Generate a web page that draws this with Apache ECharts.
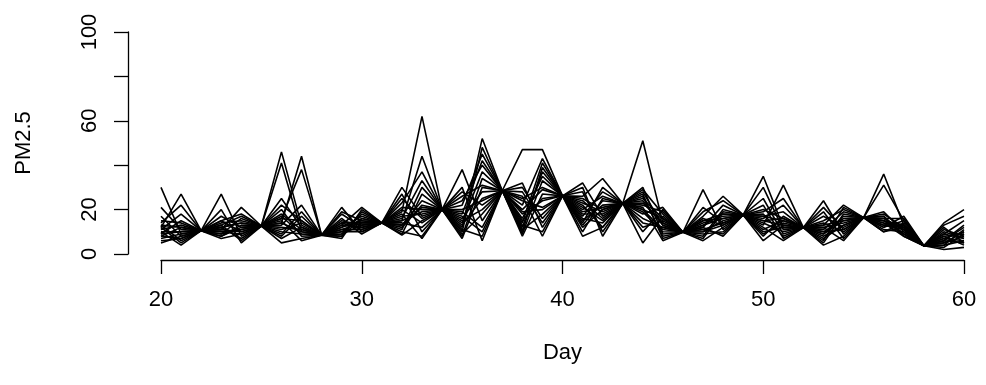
<!DOCTYPE html>
<html>
<head>
<meta charset="utf-8">
<script src="https://cdn.jsdelivr.net/npm/echarts@6/dist/echarts.min.js"></script>
<style>html,body{margin:0;padding:0;background:#fff}#c{width:986px;height:385px}</style>
</head>
<body>
<div id="c"></div>
<script>
// Days (x axis)
var days = [20,21,22,23,24,25,26,27,28,29,30,31,32,33,34,35,36,37,38,39,40,41,42,43,44,45,46,47,48,49,50,51,52,53,54,55,56,57,58,59,60];
var xTicks = [20,30,40,50,60];
var yTicks = [0,20,40,60,80,100];
var yTickLabels = ['0','20','','60','','100'];

// PM2.5 series (one per imputation), values for days 20..60
var imp1  = [30,9,10.5,12,14,12.6,46,13,8.5,12,15,14,19,62,20,16,28,28.5,47,47,26.2,19,21,22.8,16,12,9.8,14,17,17.6,15,13,11.9,10,16,16.4,13,11,3.7,8,9];
var imp2  = [12,27,10.5,9,11,12.6,14,44,8.5,15,13,14,30,17,20,12,52,28.5,18,24,26.2,32,17,22.8,51,14,9.8,10,13,17.6,35,12,11.9,8,13,16.4,36,13,3.7,6,12];
var imp3  = [21,11,10.5,27,8,12.6,41,10,8.5,9,18,14,15,44,20,38,15,28.5,22,43,26.2,14,30,22.8,18,21,9.8,29,11,17.6,13,31,11.9,24,9,16.4,15,9,3.7,14,20];
var imp4  = [14,22,10.5,11,21,12.6,16,38,8.5,21,10,14,23,37,20,10,48,28.5,32,12,26.2,26,34,22.8,30,9,9.8,17,26,17.6,19,25,11.9,13,22,16.4,31,15,3.7,5,8];
var imp5  = [9,15,10.5,20,5,12.6,25,12,8.5,13,21,14,11,30,20,24,40,28.5,12,37,26.2,10,25,22.8,5,17,9.8,7,19,17.6,25,9,11.9,19,7,16.4,12,17,3.7,12,5];
var imp6  = [17,8,10.5,13,17,12.6,9,19,8.5,18,12,14,27,10,20,30,6,28.5,26,8,26.2,22,12,22.8,27,7,9.8,21,14,17.6,8,17,11.9,5,18,16.4,17,8,3.7,9,15];
var imp7  = [11,18,10.5,8,13,12.6,20,8,8.5,10,16,14,13,24,20,14,37,28.5,9,33,26.2,30,8,22.8,22,19,9.8,12,22,17.6,11,15,11.9,21,11,16.4,14,12,3.7,4,11];
var imp8  = [8,12,10.5,15,18,12.6,13,22,8.5,16,9,14,18,7,20,28,22,28.5,30,16,26.2,17,28,22.8,12,15,9.8,9,10,17.6,22,7,11.9,15,20,16.4,10,14,3.7,7,6];
var imp9  = [13,6,10.5,10,9,12.6,22,15,8.5,8,19,14,9,27,20,19,12,28.5,14,41,26.2,12,20,22.8,28,13,9.8,19,24,17.6,30,11,11.9,12,14,16.4,19,10,3.7,13,17];
var imp10 = [10,10,10.5,17,12,12.6,8,17,8.5,14,14,14,21,20,20,8,34,28.5,20,29,26.2,24,16,22.8,20,11,9.8,15,16,17.6,17,19,11.9,9,15,16.4,16,16,3.7,6,13];
var imp11 = [15,14,10.5,12,7,12.6,17,9,8.5,11,11,14,16,33,20,22,45,28.5,10,39,26.2,15,22,22.8,25,16,9.8,11,9,17.6,16,22,11.9,17,12,16.4,15,11,3.7,10,7];
var imp12 = [6,7,10.5,14,15,12.6,11,14,8.5,12,17,14,25,16,20,13,25,28.5,24,21,26.2,28,10,22.8,10,20,9.8,13,18,17.6,20,16,11.9,6,21,16.4,17,9,3.7,5,10];
var imp13 = [12,5,10.5,11,10,12.6,18,11,8.5,9,13,14,12,22,20,17,10,28.5,28,14,26.2,20,26,22.8,21,6,9.8,16,13,17.6,9,14,11.9,14,10,16.4,13,13,3.7,8,4];
var imp14 = [7,9,10.5,9,16,12.6,5,7,8.5,19,15,14,14,12,20,26,31,28.5,16,35,26.2,23,19,22.8,23,14,9.8,8,20,17.6,14,10,11.9,11,19,16.4,18,12,3.7,3,9];
var imp15 = [11,13,10.5,8,12,12.6,15,6,8.5,7,20,14,17,18,20,9,18,28.5,8,27,26.2,13,24,22.8,19,10,9.8,6,12,17.6,12,6,11.9,4,8,16.4,11,10,3.7,11,8];
var imp16 = [9,10,10.5,13,6,12.6,12,11,8.5,13,12,14,10,8,20,15,20,28.5,11,18,26.2,16,14,22.8,14,12,9.8,10,15,17.6,10,12,11.9,7,13,16.4,14,8,3.7,4,6];
var imp17 = [13,12,10.5,10,11,12.6,7,12,8.5,10,10,14,20,14,20,11,8,28.5,13,10,26.2,18,18,22.8,26,8,9.8,12,8,17.6,18,8,11.9,12,6,16.4,12,15,3.7,6,5];
var imp18 = [10,4,10.5,7,9,12.6,10,9,8.5,11,14,14,8.5,15,20,7,30,28.5,19,20,26.2,8,12,22.8,24,13,9.8,11,14,17.6,6,13,11.9,10,11,16.4,16,11,3.7,2,3];
var imp19 = [8,7,10.5,12,14,12.6,14,10,8.5,8,16,14,15,19,20,20,24,28.5,15,25,26.2,25,20,22.8,20,16,9.8,15,18,17.6,15,16,11.9,13,15,16.4,15,13,3.7,9,7];
var imp20 = [5,8,10.5,15,10,12.6,16,15,8.5,14,11,14,13,21,20,18,42,28.5,25,30,26.2,21,15,22.8,29,18,9.8,13,16,17.6,17,15,11.9,9,17,16.4,10,12,3.7,7,10];

var imps = [imp1,imp2,imp3,imp4,imp5,imp6,imp7,imp8,imp9,imp10,imp11,imp12,imp13,imp14,imp15,imp16,imp17,imp18,imp19,imp20];

var FONT = '"Liberation Sans", Arial, Helvetica, sans-serif';
var FS = 22;

var series = imps.map(function (vals, k) {
  return {
    type: 'line',
    name: 'imp' + (k + 1),
    data: days.map(function (d, i) { return [d, vals[i]]; }),
    showSymbol: false,
    symbol: 'none',
    lineStyle: { color: '#000', width: 1.6 },
    itemStyle: { color: '#000' },
    silent: true,
    animation: false
  };
});

var chart = echarts.init(document.getElementById('c'), null, { renderer: 'canvas' });
chart.setOption({
  backgroundColor: '#fff',
  animation: false,
  grid: { left: 161, right: 22, top: 32, bottom: 131, containLabel: false },
  xAxis: {
    type: 'value', min: 20, max: 60, interval: 10, offset: 6,
    name: 'Day', nameLocation: 'middle', nameGap: 82,
    nameTextStyle: { fontFamily: FONT, fontSize: FS, color: '#000' },
    axisLine: { show: true, onZero: false, lineStyle: { color: '#000', width: 1.3 } },
    axisTick: { show: true, length: 14, inside: false, lineStyle: { color: '#000', width: 1.3 } },
    axisLabel: { margin: 29, fontFamily: FONT, fontSize: FS, color: '#000',
      formatter: function (v) { return xTicks.indexOf(v) >= 0 ? String(v) : ''; } },
    splitLine: { show: false }
  },
  yAxis: {
    type: 'value', min: 0, max: 100, interval: 20, offset: 33,
    name: 'PM2.5', nameLocation: 'middle', nameGap: 93, nameRotate: 90,
    nameTextStyle: { fontFamily: FONT, fontSize: FS, color: '#000' },
    axisLine: { show: true, onZero: false, lineStyle: { color: '#000', width: 1.3 } },
    axisTick: { show: true, length: 14, inside: false, lineStyle: { color: '#000', width: 1.3 } },
    axisLabel: { margin: 27, rotate: 90, fontFamily: FONT, fontSize: FS, color: '#000',
      formatter: function (v) { var i = yTicks.indexOf(v); return i >= 0 ? yTickLabels[i] : ''; } },
    splitLine: { show: false }
  },
  series: series
});
</script>
</body>
</html>
